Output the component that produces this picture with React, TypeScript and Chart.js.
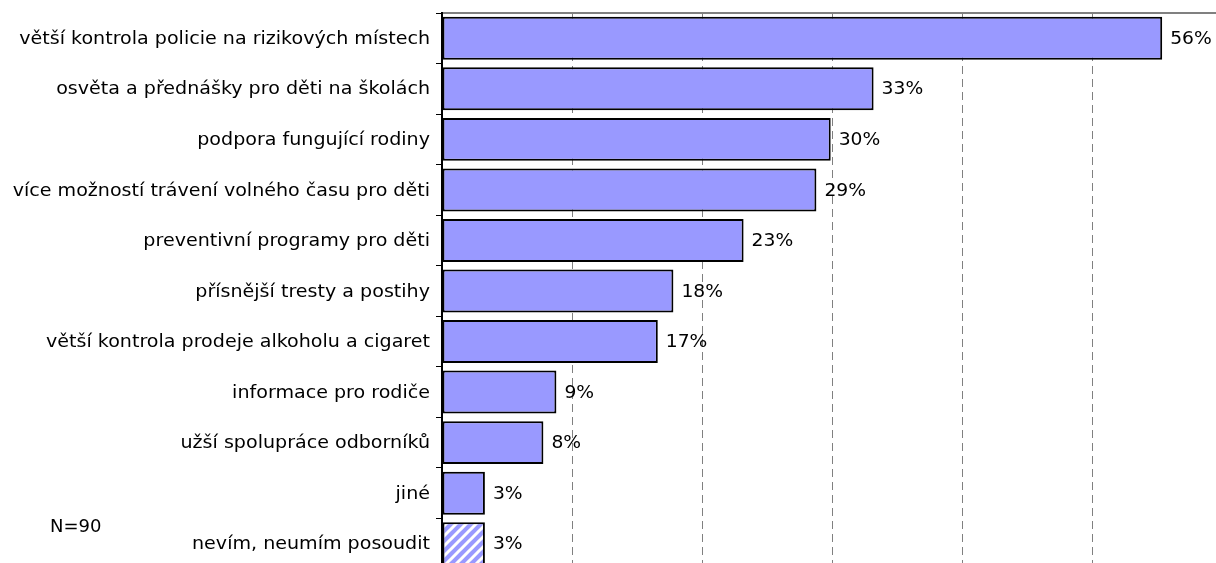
import React, { useEffect, useRef } from "react";
import { Chart, registerables } from "chart.js";

Chart.register(...registerables);

const categories = [
  "větší kontrola policie na rizikových místech",
  "osvěta a přednášky pro děti na školách",
  "podpora fungující rodiny",
  "více možností trávení volného času pro děti",
  "preventivní programy pro děti",
  "přísnější tresty a postihy",
  "větší kontrola prodeje alkoholu a cigaret",
  "informace pro rodiče",
  "užší spolupráce odborníků",
  "jiné",
  "nevím, neumím posoudit",
];
const values = [55.4, 33.2, 29.9, 28.8, 23.2, 17.8, 16.6, 8.8, 7.8, 3.3, 3.3];
const valueLabels = ["56%", "33%", "30%", "29%", "23%", "18%", "17%", "9%", "8%", "3%", "3%"];
const hatched = [false, false, false, false, false, false, false, false, false, false, true];
const axisMin = 0;
const axisMax = 60;
const axisStep = 10;
const sampleNote = "N=90";

const FONT = "'DejaVu Sans', sans-serif";
const BAR_COLOR = "#9999FF";

function makeHatch(): CanvasPattern | string {
  const n = 10;
  const c = document.createElement("canvas");
  c.width = n;
  c.height = n;
  const g = c.getContext("2d");
  if (!g) return BAR_COLOR;
  g.fillStyle = BAR_COLOR;
  g.fillRect(0, 0, n, n);
  g.strokeStyle = "#ffffff";
  g.lineWidth = 3;
  g.beginPath();
  g.moveTo(-2, n + 2);
  g.lineTo(n + 2, -2);
  g.moveTo(-2, 2);
  g.lineTo(2, -2);
  g.moveTo(n - 2, n + 2);
  g.lineTo(n + 2, n - 2);
  g.stroke();
  const p = g.createPattern(c, "repeat");
  return p || BAR_COLOR;
}

function drawStretched(ctx: CanvasRenderingContext2D, text: string, x: number, y: number, sx: number, align: "left" | "right") {
  ctx.save();
  ctx.translate(x, y);
  ctx.scale(sx, 1);
  ctx.textAlign = align;
  ctx.fillText(text, 0, 0);
  ctx.restore();
}

const labelPlugin = {
  id: "textLabels",
  afterDraw(chart: any) {
    const ctx = chart.ctx as CanvasRenderingContext2D;
    const meta = chart.getDatasetMeta(0);
    const yScale = chart.scales.y;
    ctx.save();
    ctx.font = `18px ${FONT}`;
    ctx.fillStyle = "#000";
    ctx.textBaseline = "middle";
    meta.data.forEach((bar: any, i: number) => {
      drawStretched(ctx, valueLabels[i], bar.x + 8, bar.y + 1, 1.04, "left");
    });
    categories.forEach((c, i) => {
      const y = yScale.getPixelForValue(i);
      drawStretched(ctx, c, 430, y + 1, 1.06, "right");
    });
    ctx.textAlign = "left";
    ctx.fillText(sampleNote, 50, 527);
    ctx.restore();
  },
};

export default function App() {
  const ref = useRef<HTMLCanvasElement | null>(null);

  useEffect(() => {
    if (!ref.current) return;
    const hatch = makeHatch();
    const chart = new Chart(ref.current, {
      type: "bar",
      data: {
        labels: categories,
        datasets: [
          {
            data: values,
            backgroundColor: hatched.map((h) => (h ? hatch : BAR_COLOR)),
            borderColor: "#000",
            borderWidth: 2,
            borderSkipped: false,
            categoryPercentage: 1,
            barPercentage: 0.85,
          },
        ],
      },
      options: {
        indexAxis: "y",
        animation: false,
        responsive: false,
        maintainAspectRatio: false,
        layout: { padding: 0 },
        plugins: {
          legend: { display: false },
          tooltip: { enabled: false },
        },
        scales: {
          x: {
            position: "top",
            min: axisMin,
            max: axisMax,
            ticks: { display: false, stepSize: axisStep },
            grid: {
              color: "#808080",
              lineWidth: 1,
              drawTicks: false,
            },
            border: { display: true, color: "#808080", width: 2, dash: [8, 5] },
            afterFit: (s: any) => {
              s.height = 13;
              s.paddingLeft = 0;
              s.paddingRight = 0;
              s.paddingTop = 0;
              s.paddingBottom = 0;
            },
          },
          y: {
            ticks: {
              display: false,
            },
            grid: {
              offset: true,
              drawOnChartArea: false,
              drawTicks: true,
              tickLength: 6,
              color: "#000",
            },
            border: { display: true, color: "#000", width: 2 },
            afterFit: (s: any) => {
              s.width = 442;
              s.paddingTop = 0;
              s.paddingBottom = 0;
              s.paddingLeft = 0;
              s.paddingRight = 0;
            },
          },
        },
      },
      plugins: [labelPlugin],
    });
    return () => chart.destroy();
  }, []);

  return (
    <div
      style={{
        position: "fixed",
        left: 0,
        top: 0,
        width: 1216,
        height: 563,
        overflow: "hidden",
        background: "#fff",
      }}
    >
      <canvas ref={ref} width={1222} height={569} style={{ display: "block" }} />
    </div>
  );
}
